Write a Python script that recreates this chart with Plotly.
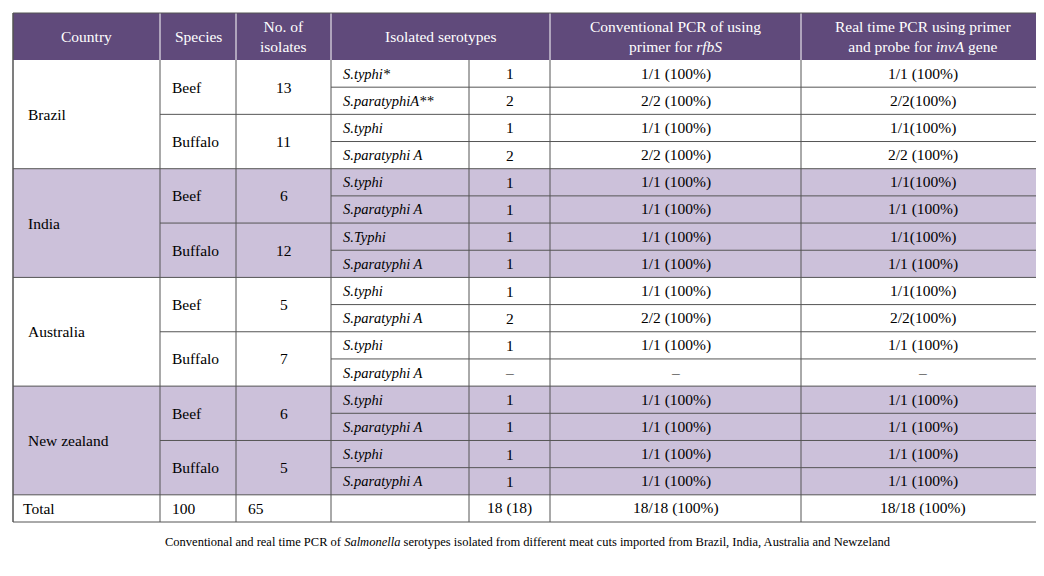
import plotly.graph_objects as go

# data
countries = ["Brazil", "India", "Australia", "New zealand"]
species = ["Beef", "Buffalo", "Beef", "Buffalo", "Beef", "Buffalo", "Beef", "Buffalo"]
isolates = ["13", "11", "6", "12", "5", "7", "6", "5"]
serotypes = ["S.typhi*", "S.paratyphiA**", "S.typhi", "S.paratyphi A",
             "S.typhi", "S.paratyphi A", "S.Typhi", "S.paratyphi A",
             "S.typhi", "S.paratyphi A", "S.typhi", "S.paratyphi A",
             "S.typhi", "S.paratyphi A", "S.typhi", "S.paratyphi A"]
counts = ["1", "2", "1", "2", "1", "1", "1", "1", "1", "2", "1", "–", "1", "1", "1", "1"]
conv_pcr = ["1/1 (100%)", "2/2 (100%)", "1/1 (100%)", "2/2 (100%)",
            "1/1 (100%)", "1/1 (100%)", "1/1 (100%)", "1/1 (100%)",
            "1/1 (100%)", "2/2 (100%)", "1/1 (100%)", "–",
            "1/1 (100%)", "1/1 (100%)", "1/1 (100%)", "1/1 (100%)"]
rt_pcr = ["1/1 (100%)", "2/2(100%)", "1/1(100%)", "2/2 (100%)",
          "1/1(100%)", "1/1 (100%)", "1/1(100%)", "1/1 (100%)",
          "1/1(100%)", "2/2(100%)", "1/1 (100%)", "–",
          "1/1 (100%)", "1/1 (100%)", "1/1 (100%)", "1/1 (100%)"]
total_row = ["Total", "100", "65", "", "18 (18)", "18/18 (100%)", "18/18 (100%)"]
headers = ["Country", "Species", "No. of<br>isolates", "Isolated serotypes",
           "Conventional PCR of using<br>primer for <i>rfbS</i>",
           "Real time PCR using primer<br>and probe for <i>invA</i> gene"]
caption = "Conventional and real time PCR of <i>Salmonella</i> serotypes isolated from different meat cuts imported from Brazil, India, Australia and Newzeland"

xs = [5, 152, 228, 323, 461, 542, 793, 1036]
top, htop, bottom = 5, 52, 514
rh = (bottom - htop) / 17
dark = "#604a7b"
light = "#ccc1da"
line = "#555555"
font = "Liberation Serif"

fig = go.Figure()
fig.add_trace(go.Scatter(x=[0], y=[0], mode="markers", marker=dict(opacity=0), hoverinfo="skip"))
shapes, ann = [], []

def txt(x, y, t, anchor="center", size=15.5, color="black"):
    ann.append(dict(x=x, y=y, text=t, showarrow=False, xanchor=anchor, yanchor="middle",
                    font=dict(family=font, size=size, color=color), xref="x", yref="y"))

# header
shapes.append(dict(type="rect", x0=xs[0], x1=xs[-1], y0=top, y1=htop, fillcolor=dark, line=dict(width=0), layer="below"))
hcols = [(xs[0], xs[1]), (xs[1], xs[2]), (xs[2], xs[3]), (xs[3], xs[5]), (xs[5], xs[6]), (xs[6], xs[7])]
for (a, b), h in zip(hcols, headers):
    txt((a + b) / 2, (top + htop) / 2, h, color="white")

# bands
for ci in range(4):
    if ci % 2 == 1:
        shapes.append(dict(type="rect", x0=xs[0], x1=xs[-1], y0=htop + ci * 4 * rh, y1=htop + (ci + 1) * 4 * rh,
                           fillcolor=light, line=dict(width=0), layer="below"))

for i in range(16):
    y0 = htop + i * rh
    yc = y0 + rh / 2
    txt(xs[3] + 10, yc, "<i>" + serotypes[i] + "</i>", anchor="left", size=14.5)
    txt((xs[4] + xs[5]) / 2, yc, counts[i])
    txt((xs[5] + xs[6]) / 2, yc, conv_pcr[i])
    txt((xs[6] + xs[7]) / 2, yc, rt_pcr[i])
    if i > 0:
        start = xs[0] if i % 4 == 0 else (xs[1] if i % 2 == 0 else xs[3])
        shapes.append(dict(type="line", x0=start, x1=xs[-1], y0=y0, y1=y0, line=dict(color=line, width=1)))
for s in range(8):
    yc = htop + (s * 2 + 1) * rh
    txt(xs[1] + 10, yc, species[s], anchor="left")
    txt((xs[2] + xs[3]) / 2, yc, isolates[s])
for c in range(4):
    txt(xs[0] + 13, htop + (c * 4 + 2) * rh, countries[c], anchor="left")

# total
ty = htop + 16 * rh
shapes.append(dict(type="line", x0=xs[0], x1=xs[-1], y0=ty, y1=ty, line=dict(color=line, width=1)))
tyc = ty + rh / 2
txt(xs[0] + 8, tyc, total_row[0], anchor="left")
txt(xs[1] + 10, tyc, total_row[1], anchor="left")
txt(xs[2] + 10, tyc, total_row[2], anchor="left")
txt((xs[4] + xs[5]) / 2, tyc, total_row[4])
txt((xs[5] + xs[6]) / 2, tyc, total_row[5])
txt((xs[6] + xs[7]) / 2, tyc, total_row[6])

# verticals
for k, x in enumerate(xs):
    y0 = top if k != 4 else htop
    col = "white" if k not in (0, 7) else line
    shapes.append(dict(type="line", x0=x, x1=x, y0=y0, y1=htop, line=dict(color=col if k != 4 else line, width=1)))
    shapes.append(dict(type="line", x0=x, x1=x, y0=htop, y1=bottom, line=dict(color=line, width=1)))
shapes.append(dict(type="rect", x0=xs[0], x1=xs[-1], y0=top, y1=bottom, line=dict(color=line, width=1)))

txt(520, 534, caption, size=12.5)

fig.update_layout(width=1044, height=576, margin=dict(l=0, r=0, t=0, b=0),
                  plot_bgcolor="white", paper_bgcolor="white", showlegend=False,
                  shapes=shapes, annotations=ann,
                  xaxis=dict(range=[0, 1044], visible=False, fixedrange=True),
                  yaxis=dict(range=[576, 0], visible=False, fixedrange=True))
fig.write_html("out.html")
